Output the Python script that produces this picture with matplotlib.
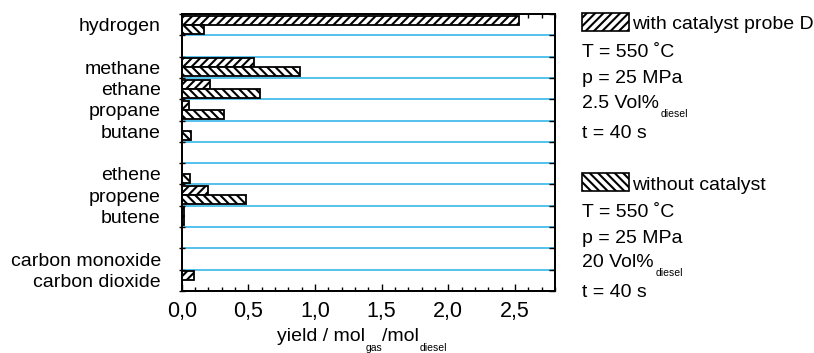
import numpy as np
import matplotlib
matplotlib.use("Agg")
import matplotlib.pyplot as plt
from matplotlib.patches import Rectangle
from matplotlib.ticker import FuncFormatter, MultipleLocator, FixedLocator, NullFormatter

plt.rcParams['font.family'] = ['Liberation Sans', 'DejaVu Sans']
plt.rcParams['hatch.color'] = 'black'
plt.rcParams['hatch.linewidth'] = 1.5

# ---- data ----
slots = ['hydrogen', '', 'methane', 'ethane', 'propane', 'butane', '',
         'ethene', 'propene', 'butene', '', 'carbon monoxide', 'carbon dioxide']
with_catalyst = [2.53, None, 0.54, 0.21, 0.057, 0.0, None,
                 0.0, 0.195, 0.017, None, 0.0, 0.095]
without_catalyst = [0.17, None, 0.89, 0.59, 0.32, 0.07, None,
                    0.06, 0.48, 0.017, None, 0.0, 0.0]
x_ticks = [0.0, 0.5, 1.0, 1.5, 2.0, 2.5]
legend_cat = ['with catalyst probe D', 'T = 550 ˚C', 'p = 25 MPa', '2.5 Vol%', 't = 40 s']
legend_nocat = ['without catalyst', 'T = 550 ˚C', 'p = 25 MPa', '20 Vol%', 't = 40 s']

W, H = 814, 353
FS = 14
HATCH_CAT = '////'
HATCH_NOCAT = '\\\\\\\\'
fig = plt.figure(figsize=(W / 100, H / 100), dpi=100)
ax = fig.add_axes([181.7 / W, 1 - 291 / H, (555 - 181.7) / W, (291 - 14) / H])

n = len(slots)
idx = [i for i, s in enumerate(slots) if s]
bh = 0.42
ax.barh([i + 0.08 for i in idx], [with_catalyst[i] for i in idx], height=bh, align='edge',
        facecolor='white', edgecolor='black', hatch=HATCH_CAT, lw=1.3, zorder=3)
ax.barh([i + 0.5 for i in idx], [without_catalyst[i] for i in idx], height=bh, align='edge',
        facecolor='white', edgecolor='black', hatch=HATCH_NOCAT, lw=1.3, zorder=3)

ax.hlines(np.arange(1, n), 0, 2.8, color='#45bdea', lw=1.3, zorder=1)

ax.set_xlim(0, 2.8)
ax.set_ylim(n, 0)

ax.xaxis.set_major_locator(FixedLocator(x_ticks))
ax.xaxis.set_minor_locator(MultipleLocator(0.1))
ax.xaxis.set_major_formatter(FuncFormatter(lambda v, p: f'{v:.1f}'.replace('.', ',')))
ax.tick_params(axis='x', which='major', direction='in', length=5, width=1, top=True,
               labelsize=15.5, pad=7)
ax.tick_params(axis='x', which='minor', direction='in', length=3, width=1, top=True)
ax.tick_params(axis='x', which='major', labeltop=False)

ax.yaxis.set_major_locator(FixedLocator(np.arange(0, n + 1)))
ax.yaxis.set_major_formatter(NullFormatter())
ax.yaxis.set_minor_locator(FixedLocator([i + 0.5 for i in idx]))
ax.yaxis.set_minor_formatter(FuncFormatter(lambda v, p: slots[int(v)]))
ax.tick_params(axis='y', which='major', direction='inout', length=5, width=1, right=False)
ax.tick_params(axis='y', which='minor', length=0, labelsize=FS, pad=15)
for sp in ax.spines.values():
    sp.set_linewidth(1.3)

# inward ticks on the right spine
axr = ax.twinx()
axr.set_ylim(n, 0)
axr.yaxis.set_major_locator(FixedLocator(np.arange(0, n + 1)))
axr.yaxis.set_major_formatter(NullFormatter())
axr.tick_params(axis='y', direction='in', length=4, width=1)
for sp in axr.spines.values():
    sp.set_linewidth(1.3)

def fy(p):
    return 1 - p / H

# x label with subscripts
t1 = fig.text(277 / W, fy(341), 'yield / mol', fontsize=FS, va='baseline', ha='left')
s1 = ax.annotate('gas', xy=(1, 0), xycoords=t1, xytext=(0.5, -6), textcoords='offset points',
                 fontsize=7.5, va='bottom', ha='left', annotation_clip=False)
t2 = ax.annotate('/mol', xy=(1, 0), xycoords=(s1, t1), xytext=(0, 0), textcoords='offset points',
                 fontsize=FS, va='bottom', ha='left', annotation_clip=False)
ax.annotate('diesel', xy=(1, 0), xycoords=t2, xytext=(0.5, -6), textcoords='offset points',
            fontsize=7.5, va='bottom', ha='left', annotation_clip=False)

# legend blocks
def block(top_box, hatch, lines, baselines, sub_off):
    fig.add_artist(Rectangle((582 / W, fy(top_box + 18)), 47 / W, 18 / H,
                             transform=fig.transFigure, facecolor='white',
                             edgecolor='black', hatch=hatch, lw=1.2))
    fig.text(632 / W, fy(baselines[0]), lines[0], fontsize=FS, va='baseline', ha='left')
    for txt, b in zip(lines[1:], baselines[1:]):
        t = fig.text(582 / W, fy(b), txt, fontsize=FS, va='baseline', ha='left')
        if 'Vol%' in txt:
            ax.annotate('diesel', xy=(1, 0), xycoords=t, xytext=(1.5, sub_off),
                        textcoords='offset points', fontsize=7.5, va='bottom',
                        ha='left', annotation_clip=False)

block(13, HATCH_CAT, legend_cat, [29, 57, 83, 108, 138], -5)
block(173, HATCH_NOCAT, legend_nocat, [190, 217, 243, 267, 297], -5)

fig.savefig('out.png', dpi=100)
